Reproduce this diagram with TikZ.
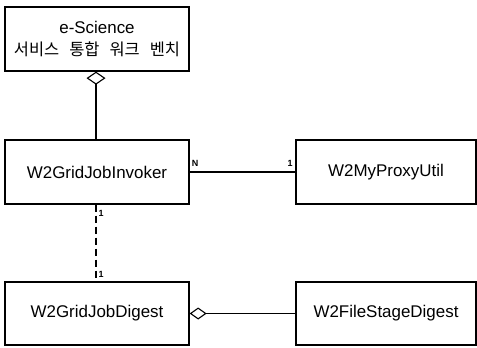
\documentclass[tikz,border=0pt]{standalone}
\usepackage{fontspec}
\setmainfont{Liberation Sans}
\newfontfamily\krfont{Noto Sans CJK KR}
\usetikzlibrary{arrows.meta}
\newcommand{\kgap}{\hspace{10bp}}
\begin{document}
\begin{tikzpicture}[x=1bp,y=-1bp,
  cls/.style={draw,line width=1.3bp,minimum height=64bp,inner sep=0pt,font=\fontsize{17}{22}\selectfont},
  conn/.style={line width=1.1bp},
  mult/.style={font=\fontsize{9}{10}\selectfont\bfseries,inner sep=0pt}]
\useasboundingbox (0,0) rectangle (477,347);
\node[cls,minimum width=184bp,align=center] (ws) at (97,39) {e-Science\\{\krfont\fontsize{16.5}{20}\selectfont 서비스\kgap 통합\kgap 워크\kgap 벤치}};
\node[cls,minimum width=184bp] (inv) at (97,172) {W2GridJobInvoker};
\node[cls,minimum width=180bp] (proxy) at (386,172) {W2MyProxyUtil};
\node[cls,minimum width=184bp,minimum height=63bp] (dig) at (97,313.5) {W2GridJobDigest};
\node[cls,minimum width=180bp,minimum height=63bp] (fsd) at (386,313.5) {W2FileStageDigest};
\draw[conn,-{Diamond[open,length=13bp,width=19bp,line width=1.1bp]}] (inv.north -| 96,0) -- (ws.south -| 96,0);
\draw[conn] (inv.east) -- (proxy.west);
\draw[conn,dashed,dash pattern=on 7bp off 4bp] (inv.south -| 96,0) -- (dig.north -| 96,0);
\draw[conn,-{Diamond[open,length=17bp,width=12bp,line width=1.1bp]}] (fsd.west) -- (dig.east);
\node[mult] (mN) at (195,163) {N};
\node[mult] (m1a) at (290,163) {1};
\node[mult] (m1b) at (101,213) {1};
\node[mult] (m1c) at (101,274) {1};
\end{tikzpicture}
\end{document}
